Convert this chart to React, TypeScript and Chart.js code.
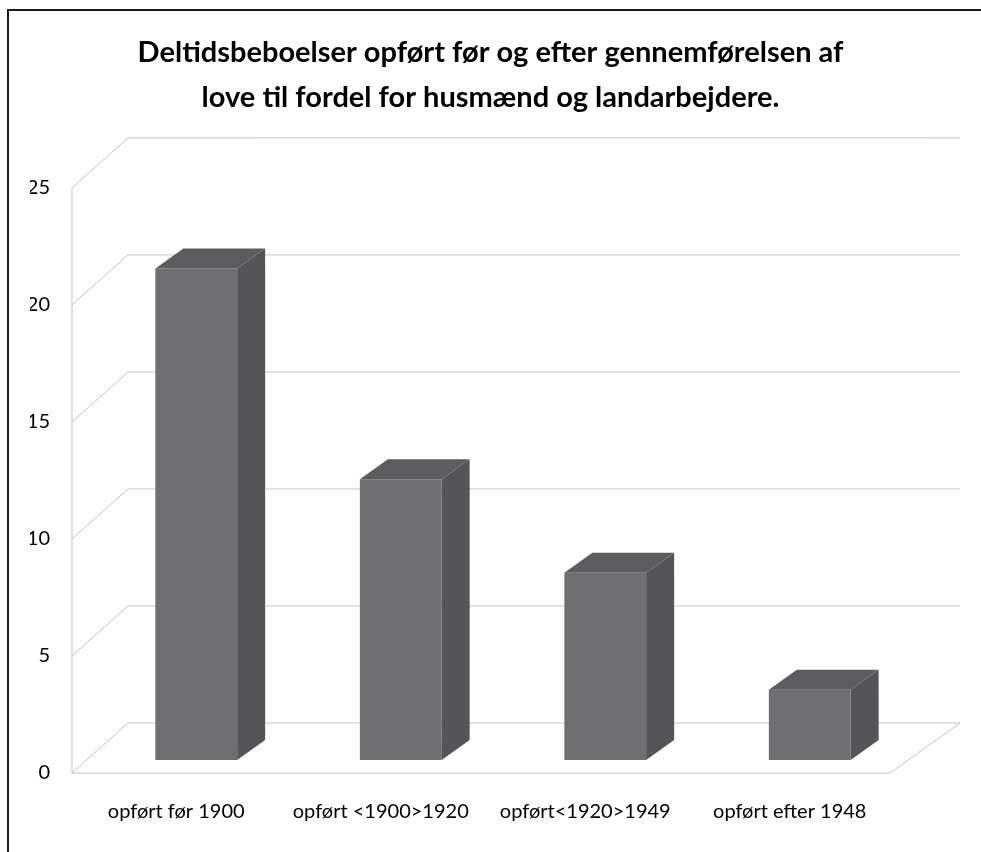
import React, { useEffect, useRef } from "react";
import { Chart, registerables } from "chart.js";

Chart.register(...registerables);

const categories = ["opført før 1900", "opført <1900>1920", "opført<1920>1949", "opført efter 1948"];
const values = [21, 12, 8, 3];
const titleLines = [
  "Deltidsbeboelser opført før og efter gennemførelsen af",
  "love til fordel for husmænd og landarbejdere.",
];
const yMin = 0;
const yMax = 25;
const yStep = 5;

const FONT = "Lato, 'Open Sans', sans-serif";

const threeD = {
  id: "threeD",
  beforeDatasetsDraw(chart: any) {
    const { ctx, chartArea } = chart;
    const ys = chart.scales.y;
    const fl = chartArea.left - 22;
    const bl = chartArea.left + 34;
    const fr = chartArea.right - 22;
    const br = chartArea.right + 48;
    const fy = (v: number) => ys.getPixelForValue(v) + 13;
    const by = (v: number) => ys.getPixelForValue(v) - 37;
    ctx.save();
    ctx.strokeStyle = "#c4c4c4";
    ctx.lineWidth = 1;
    ctx.beginPath();
    ys.ticks.forEach((t: any) => {
      ctx.moveTo(fl, fy(t.value));
      ctx.lineTo(bl, by(t.value));
      ctx.lineTo(br, by(t.value));
    });
    ctx.moveTo(fl, fy(yMax));
    ctx.lineTo(fl, fy(yMin));
    ctx.lineTo(fr, fy(yMin));
    ctx.lineTo(br, by(yMin));
    ctx.stroke();
    ctx.restore();
  },
  afterDatasetsDraw(chart: any) {
    const { ctx } = chart;
    const meta = chart.getDatasetMeta(0);
    const dx = 28;
    const dy = -20;
    ctx.save();
    meta.data.forEach((bar: any) => {
      const p = bar.getProps(["x", "y", "base", "width"], true);
      const l = p.x - p.width / 2;
      const r = p.x + p.width / 2;
      ctx.fillStyle = "#5d5d5f";
      ctx.beginPath();
      ctx.moveTo(l, p.y);
      ctx.lineTo(l + dx, p.y + dy);
      ctx.lineTo(r + dx, p.y + dy);
      ctx.lineTo(r, p.y);
      ctx.closePath();
      ctx.fill();
      ctx.fillStyle = "#555557";
      ctx.beginPath();
      ctx.moveTo(r, p.y);
      ctx.lineTo(r + dx, p.y + dy);
      ctx.lineTo(r + dx, p.base + dy);
      ctx.lineTo(r, p.base);
      ctx.closePath();
      ctx.fill();
    });
    ctx.restore();
  },
};

export default function App() {
  const ref = useRef<HTMLCanvasElement>(null);
  useEffect(() => {
    if (!ref.current) return;
    const chart = new Chart(ref.current, {
      type: "bar",
      data: {
        labels: categories,
        datasets: [
          {
            data: values,
            backgroundColor: "#6f6f71",
            borderWidth: 0,
            barPercentage: 0.4,
            categoryPercentage: 1,
          },
        ],
      },
      options: {
        responsive: false,
        animation: false,
        layout: { padding: { left: 30, right: 30, top: 0, bottom: 22 } },
        plugins: {
          legend: { display: false },
          tooltip: { enabled: false },
          title: {
            display: true,
            text: titleLines,
            color: "#000",
            font: { family: FONT, size: 29, weight: "bold", lineHeight: 1.55 },
            padding: { top: 30, bottom: 55 },
          },
        },
        scales: {
          x: {
            grid: { display: false, drawTicks: false },
            border: { display: false },
            ticks: {
              color: "#000",
              font: { family: FONT, size: 20 },
              padding: 40,
              labelOffset: -20,
              maxRotation: 0,
              autoSkip: false,
            },
            afterFit: (s: any) => {
              s.height = 70;
            },
          },
          y: {
            min: yMin,
            max: yMax,
            grid: { display: false, drawTicks: false },
            border: { display: false },
            ticks: {
              stepSize: yStep,
              color: "#000",
              font: { family: FONT, size: 20 },
              padding: 44,
              labelOffset: 13,
            },
            afterFit: (s: any) => {
              s.width = 64;
            },
          },
          y2: {
            position: "right",
            min: yMin,
            max: yMax,
            grid: { display: false, drawTicks: false },
            border: { display: false },
            ticks: { display: false },
            afterFit: (s: any) => {
              s.width = 39;
            },
          },
        },
      },
      plugins: [threeD],
    });
    return () => chart.destroy();
  }, []);
  return (
    <div style={{ position: "absolute", left: 0, top: 0, width: 981, height: 852, background: "#fff" }}>
      <canvas ref={ref} width={981} height={852} style={{ position: "absolute", left: 0, top: 0 }} />
      <div
        style={{
          position: "absolute",
          left: 7,
          top: 9,
          width: 981 - 9,
          height: 852 - 11,
          borderLeft: "2px solid #1a1a1a",
          borderTop: "2px solid #1a1a1a",
          pointerEvents: "none",
        }}
      />
    </div>
  );
}
